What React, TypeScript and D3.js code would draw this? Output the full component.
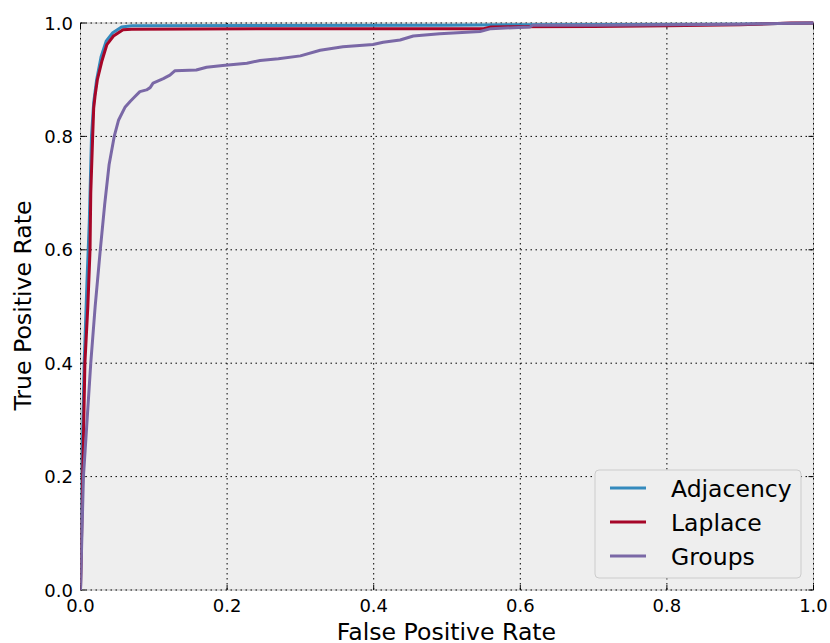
import React from "react";
import * as d3 from "d3";

const W = 830;
const H = 643;

const xTicks = [0, 0.2, 0.4, 0.6, 0.8, 1.0];
const yTicks = [0, 0.2, 0.4, 0.6, 0.8, 1.0];
const seriesNames = ["Adjacency", "Laplace", "Groups"];
const seriesColors = ["#348ABD", "#A60628", "#7A68A6"];

const adjFpr = [0, 0.002, 0.005, 0.009, 0.012, 0.015, 0.018, 0.022, 0.028, 0.035, 0.044, 0.056, 0.07, 0.5, 0.6, 0.9, 1];
const adjTpr = [0, 0.22, 0.4, 0.55, 0.65, 0.8, 0.86, 0.9, 0.94, 0.968, 0.983, 0.993, 0.995, 0.996, 0.997, 0.998, 1];

const lapFpr = [0, 0.003, 0.006, 0.01, 0.013, 0.014, 0.0166, 0.018, 0.02, 0.023, 0.029, 0.036, 0.045, 0.058, 0.07, 0.3, 0.55, 0.56, 0.7, 0.8, 0.9, 0.97, 1];
const lapTpr = [0, 0.2, 0.4, 0.5, 0.6, 0.7, 0.8, 0.85, 0.873, 0.9, 0.932, 0.962, 0.977, 0.988, 0.989, 0.99, 0.99, 0.993, 0.994, 0.995, 0.997, 1, 1];

const grpFpr = [0, 0.002, 0.004, 0.009, 0.014, 0.02, 0.027, 0.033, 0.039, 0.046, 0.052, 0.061, 0.068, 0.074, 0.081, 0.09, 0.095, 0.099, 0.113, 0.122, 0.129, 0.158, 0.172, 0.194, 0.227, 0.245, 0.27, 0.3, 0.327, 0.358, 0.399, 0.413, 0.436, 0.454, 0.49, 0.545, 0.56, 0.613, 0.617, 0.7, 0.9, 1];
const grpTpr = [0, 0.1, 0.2, 0.3, 0.4, 0.5, 0.6, 0.68, 0.75, 0.8, 0.829, 0.852, 0.862, 0.87, 0.879, 0.882, 0.886, 0.894, 0.902, 0.908, 0.916, 0.917, 0.922, 0.925, 0.929, 0.934, 0.937, 0.942, 0.952, 0.958, 0.962, 0.966, 0.97, 0.977, 0.981, 0.985, 0.99, 0.993, 0.996, 0.996, 0.998, 1];

const series = [
  { fpr: adjFpr, tpr: adjTpr },
  { fpr: lapFpr, tpr: lapTpr },
  { fpr: grpFpr, tpr: grpTpr },
];

const left = 80.5, right = 813.5, top = 23, bottom = 590;

export default function App() {
  const x = d3.scaleLinear().domain([0, 1]).range([left, right]);
  const y = d3.scaleLinear().domain([0, 1]).range([bottom, top]);
  const line = d3.line<number>();
  const font = "DejaVu Sans, sans-serif";
  const gridDash = "1.5,3.5";
  const legX = 595, legY = 470, legW = 206, legH = 108;

  return (
    <svg width={W} height={H} style={{ position: "absolute", left: 0, top: 0 }} fontFamily={font}>
      <rect x={0} y={0} width={W} height={H} fill="#ffffff" />
      <rect x={left} y={top} width={right - left} height={bottom - top} fill="#eeeeee" stroke="#bcbcbc" strokeWidth={1} />
      <defs>
        <clipPath id="plotclip">
          <rect x={left} y={top - 3} width={right - left} height={bottom - top + 3} />
        </clipPath>
      </defs>
      {xTicks.map((t) => (
        <line key={"gx" + t} x1={x(t)} x2={x(t)} y1={top} y2={bottom} stroke="#000" strokeWidth={1} strokeDasharray={gridDash} />
      ))}
      {yTicks.map((t) => (
        <line key={"gy" + t} x1={left} x2={right} y1={y(t)} y2={y(t)} stroke="#000" strokeWidth={1} strokeDasharray={gridDash} />
      ))}
      {xTicks.map((t) => (
        <g key={"tx" + t}>
          <line x1={x(t)} x2={x(t)} y1={bottom} y2={bottom - 5} stroke="#000" strokeWidth={1} />
          <line x1={x(t)} x2={x(t)} y1={top} y2={top + 5} stroke="#000" strokeWidth={1} />
          <text x={x(t)} y={612} fontSize={18} textAnchor="middle" fill="#000">{t.toFixed(1)}</text>
        </g>
      ))}
      {yTicks.map((t) => (
        <g key={"ty" + t}>
          <line x1={left} x2={left + 5} y1={y(t)} y2={y(t)} stroke="#000" strokeWidth={1} />
          <line x1={right} x2={right - 5} y1={y(t)} y2={y(t)} stroke="#000" strokeWidth={1} />
          <text x={73} y={y(t) + 6.5} fontSize={18} textAnchor="end" fill="#000">{t.toFixed(1)}</text>
        </g>
      ))}
      <g clipPath="url(#plotclip)">
        {series.map((s, i) => (
          <path
            key={"s" + i}
            d={line(s.fpr.map((f, j) => [x(f), y(s.tpr[j])]) as any) || ""}
            fill="none"
            stroke={seriesColors[i]}
            strokeWidth={3}
            strokeLinejoin="round"
          />
        ))}
      </g>
      <text x={(left + right) / 2 - 0.5} y={640} fontSize={23.6} textAnchor="middle" fill="#000">False Positive Rate</text>
      <text transform={`translate(31,${(top + bottom) / 2 - 1}) rotate(-90)`} fontSize={23.6} textAnchor="middle" fill="#000">True Positive Rate</text>
      <rect x={legX} y={legY} width={legW} height={legH} rx={4} fill="#eeeeee" stroke="#cccccc" strokeWidth={1} />
      {seriesNames.map((n, i) => (
        <g key={"l" + n}>
          <line x1={610} x2={646} y1={488 + i * 34} y2={488 + i * 34} stroke={seriesColors[i]} strokeWidth={3} />
          <text x={671} y={488 + i * 34 + 8.5} fontSize={23.5} fill="#000">{n}</text>
        </g>
      ))}
    </svg>
  );
}
